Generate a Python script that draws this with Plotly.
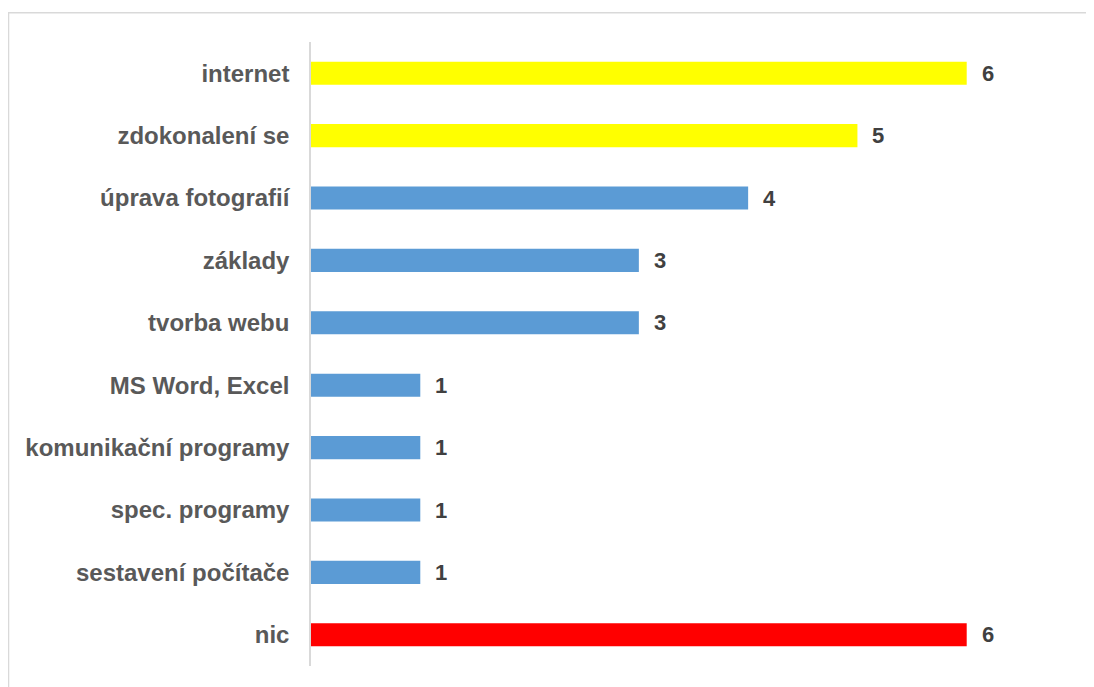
import plotly.graph_objects as go

categories = ['internet', 'zdokonalení se', 'úprava fotografií', 'základy', 'tvorba webu',
              'MS Word, Excel', 'komunikační programy', 'spec. programy',
              'sestavení počítače', 'nic']
counts = [6, 5, 4, 3, 3, 1, 1, 1, 1, 6]
bar_colors = ['#FFFF00', '#FFFF00', '#5B9BD5', '#5B9BD5', '#5B9BD5',
              '#5B9BD5', '#5B9BD5', '#5B9BD5', '#5B9BD5', '#FF0000']

FONT = 'Arial, Liberation Sans, sans-serif'

fig = go.Figure()
fig.add_trace(go.Bar(
    x=counts,
    y=categories,
    orientation='h',
    width=0.37,
    marker=dict(color=bar_colors, line=dict(width=0)),
    hoverinfo='x+y',
))

# value labels to the right of each bar
for cat, val in zip(categories, counts):
    fig.add_annotation(
        x=val, y=cat, xref='x', yref='y',
        text=str(val), showarrow=False,
        xanchor='left', yanchor='middle', xshift=13,
        font=dict(family=FONT, size=22, color='#404040', weight='bold'),
    )

# light frame around the chart area
fig.add_shape(
    type='rect', xref='paper', yref='paper',
    x0=-0.3954, x1=1.032, y0=-0.04, y1=1.047,
    line=dict(color='#D9D9D9', width=1.5),
    fillcolor='rgba(0,0,0,0)', layer='below',
)

# page body has an 8px margin, so the figure is sized to fill the rest
fig.update_layout(
    width=1086, height=679,
    margin=dict(l=303, r=18, t=34, b=21),
    paper_bgcolor='white', plot_bgcolor='white',
    showlegend=False,
    xaxis=dict(range=[0, 7], visible=False, fixedrange=True),
    yaxis=dict(
        autorange='reversed',
        showgrid=False,
        showline=True, linecolor='#D9D9D9', linewidth=1.5,
        ticks='', ticklabelstandoff=15,
        tickfont=dict(family=FONT, size=24, color='#595959', weight='bold'),
        zeroline=False,
    ),
)

fig.write_html('out.html')
